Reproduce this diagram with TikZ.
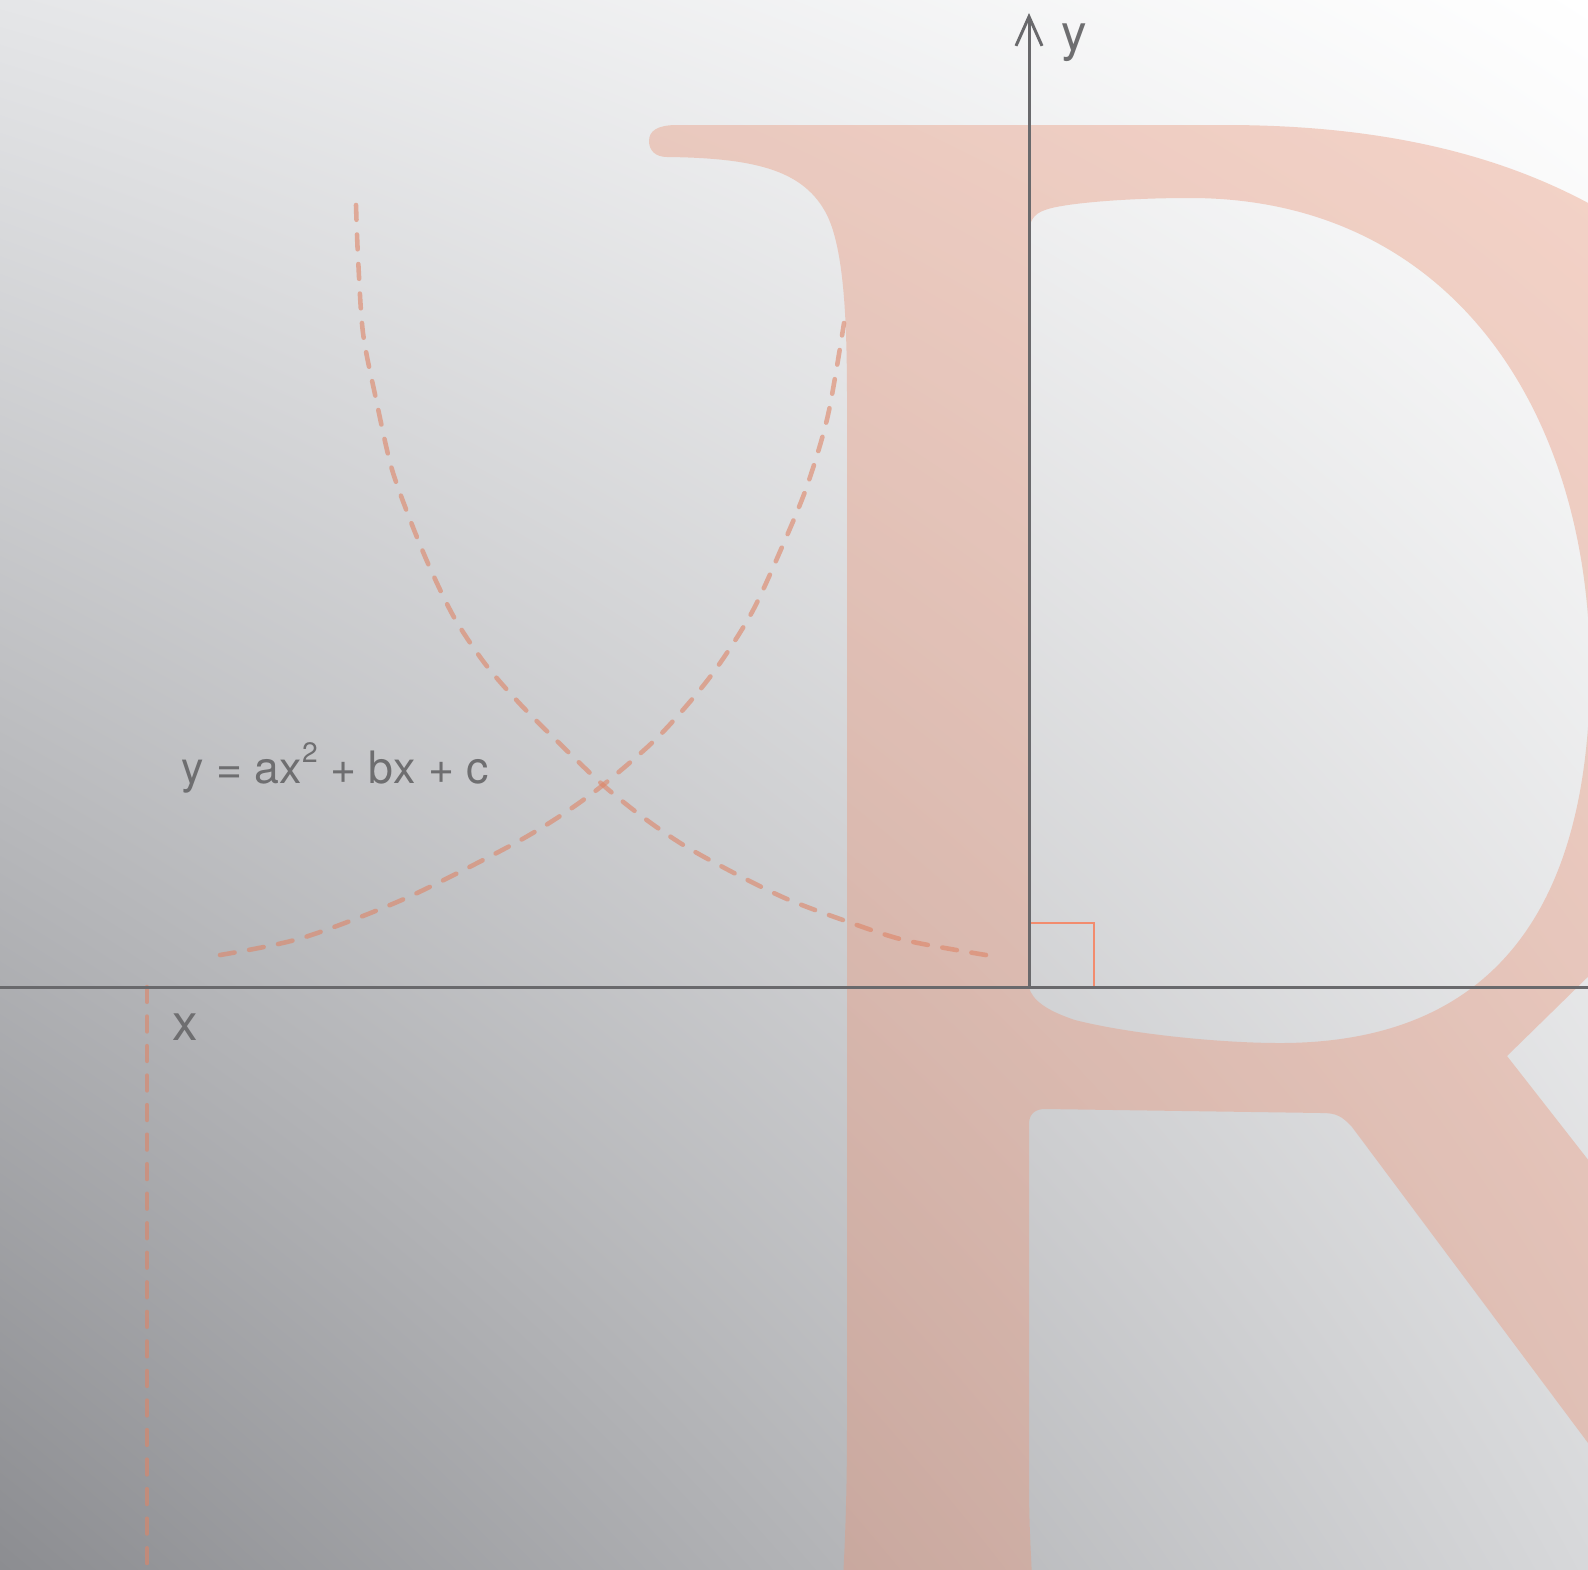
\documentclass[tikz,border=0pt]{standalone}
\usepackage{fontspec}
\setmainfont{TeX Gyre Heros}
\usetikzlibrary{arrows.meta,shadings}
\definecolor{bgUL}{RGB}{229,230,232}
\definecolor{bgUR}{RGB}{255,255,255}
\definecolor{bgLL}{RGB}{140,141,145}
\definecolor{bgLR}{RGB}{215,216,218}
\definecolor{rfill}{RGB}{233,150,122}
\definecolor{dashc}{RGB}{222,132,102}
\definecolor{axisc}{RGB}{105,105,108}
\definecolor{textc}{RGB}{110,110,112}
\definecolor{sqc}{RGB}{242,140,110}
\begin{document}
\begin{tikzpicture}[x=0.01cm,y=-0.01cm,
  axisline/.style={draw=axisc,line width=0.85pt},
  dashcurve/.style={draw=dashc,draw opacity=0.6,line width=1.3pt,line cap=round,dash pattern=on 4.2pt off 4.2pt},
  lbl/.style={text=textc,inner sep=0pt,font=\fontsize{14.5}{17}\selectfont},
  eqlbl/.style={text=textc,inner sep=0pt,font=\fontsize{12.7}{15}\selectfont},
  rglyph/.style={fill=rfill,fill opacity=0.4,even odd rule},
  rightangle/.style={draw=sqc,line width=0.6pt}]
\useasboundingbox (0,0) rectangle (1588,1569);
\clip (0,0) rectangle (1588,1569);
% background
\shade[upper left=bgUL,upper right=bgUR,lower left=bgLL,lower right=bgLR] (0,0) rectangle (1588,1569);
% big R glyph
\path[rglyph]
 (677,125) -- (1225,125) .. controls (1370,125) and (1490,150) .. (1590,204)
 -- (1600,210) -- (1600,965) -- (1507,1056) -- (1600,1175) -- (1600,1459)
 -- (1352,1127) .. controls (1342,1116) and (1336,1113) .. (1322,1113)
 -- (1045,1109) .. controls (1035,1109) and (1029,1114) .. (1029,1124)
 -- (1029,1480) .. controls (1029,1530) and (1031,1550) .. (1032,1580)
 -- (843,1580) .. controls (845,1540) and (847,1500) .. (847,1420)
 -- (847,400) .. controls (847,320) and (844,250) .. (827,215)
 .. controls (805,172) and (760,158) .. (667,157)
 .. controls (655,157) and (649,150) .. (649,141)
 .. controls (649,131) and (657,125) .. (677,125) -- cycle
 (1029,988) .. controls (1033,1000) and (1045,1010) .. (1075,1020)
 .. controls (1130,1034) and (1220,1043) .. (1280,1043)
 .. controls (1500,1043) and (1590,900) .. (1590,670)
 .. controls (1590,410) and (1450,198) .. (1190,198)
 .. controls (1120,198) and (1060,204) .. (1045,210)
 .. controls (1033,214) and (1029,222) .. (1029,235) -- cycle;
% dashed curves
\draw[dashcurve] plot[smooth] coordinates {(356,205) (358,257) (363,333) (376,399) (391,466) (409,517) (430,568) (455,619) (486,665) (521,705) (557,741) (603,785) (644,818) (685,846) (736,874) (787,899) (843,920) (904,940) (986,955)};
\draw[dashcurve] plot[smooth] coordinates {(220,955) (302,938) (404,899) (506,848) (557,818) (603,785) (659,736) (710,677) (751,614) (782,547) (807,486) (828,415) (844,323)};
% axes
\coordinate (O) at (1029,987);
\coordinate (ytip) at (1029,13);
\coordinate (xl) at (-5,987);
\coordinate (xr) at (1593,987);
\coordinate (vtop) at (147,987);
\coordinate (vbot) at (147,1575);
\coordinate (sqa) at (1029,923);
\coordinate (sqb) at (1094,923);
\coordinate (sqc) at (1094,987);
\draw[dashcurve] (vtop) -- (vbot);
\draw[rightangle] (sqa) -- (sqb) -- (sqc);
\draw[axisline] (xl) -- (xr);
\draw[axisline,-{Straight Barb[length=8.3pt,width=7.4pt]}] (O) -- (ytip);
% labels
\node[lbl,anchor=base west] (ylabel) at (1061,50) {y};
\node[lbl,anchor=base west] (xlabel) at (172,1040) {x};
\node[eqlbl,anchor=base west] (eq) at (181,783) {y = ax\raisebox{0.45em}{\fontsize{8}{9}\selectfont 2} + bx + c};
\end{tikzpicture}
\end{document}
